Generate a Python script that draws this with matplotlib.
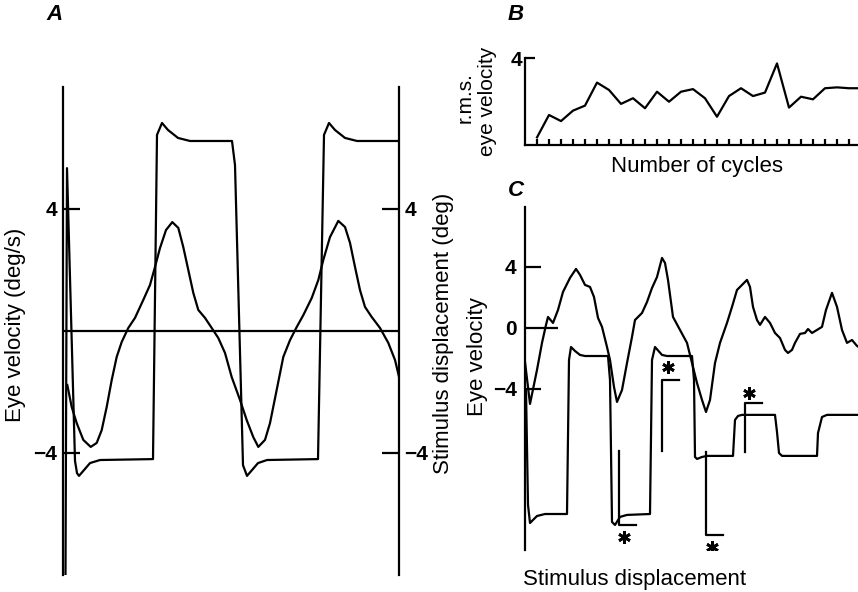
import matplotlib
matplotlib.use('Agg')
import matplotlib.pyplot as plt

plt.rcParams['font.family'] = ['Liberation Sans', 'DejaVu Sans']
plt.rcParams['axes.linewidth'] = 1.6

W, H = 858, 592
LW = 1.6
FS = 16
TFS = 15

# ---- panel A: two stimulus cycles (time in samples) ----
a_eye_t = [4.3, 8.7, 13.7, 20.3, 27.7, 33.7, 38.7, 43.7, 48.7, 53.7, 58.7, 65.3, 72,
           80.3, 87, 92, 97, 103, 109.3, 115.3, 120.3, 125.3, 130.3, 135.3, 142,
           148.7, 155.3, 162, 168.7, 177, 183.7, 190.3, 195.3, 202, 207, 213.7,
           220.3, 227, 233.7, 240.3, 248.7, 255.3, 260.3, 267, 275.3, 282, 287,
           292, 297, 302, 308.7, 317, 325.3, 332, 336]
a_eye_v = [-1.77, -2.49, -3.02, -3.57, -3.80, -3.67, -3.25, -2.49, -1.61, -0.85,
           -0.36, 0.10, 0.43, 1.02, 1.51, 2.10, 2.72, 3.31, 3.57, 3.38, 2.75, 2.00,
           1.25, 0.69, 0.43, 0.10, -0.23, -0.72, -1.51, -2.26, -2.92, -3.48, -3.80,
           -3.57, -3.02, -1.93, -0.85, -0.30, 0.13, 0.52, 1.08, 1.67, 2.33, 3.08,
           3.61, 3.41, 2.89, 2.10, 1.34, 0.79, 0.46, 0.10, -0.39, -0.95, -1.50]

a_stim_t = [2.5, 4, 12, 14, 16, 21, 27, 37, 90, 94, 99, 105, 115, 127, 169, 172, 180,
            184, 189, 195, 204, 255, 261, 266, 272, 282, 294, 336]
a_stim_d = [-8.0, 5.34, -4.26, -4.66, -4.75, -4.56, -4.33, -4.23, -4.2, 6.43, 6.82,
            6.59, 6.33, 6.23, 6.23, 5.44, -4.4, -4.75, -4.56, -4.33, -4.23, -4.2,
            6.43, 6.82, 6.59, 6.33, 6.23, 6.23]

# ---- panel B: r.m.s. eye velocity per cycle ----
b_cycles = list(range(1, 29))
b_rms = [0.35, 1.38, 1.10, 1.58, 1.81, 2.87, 2.53, 1.89, 2.15, 1.69, 2.45, 1.99,
         2.45, 2.57, 2.15, 1.30, 2.25, 2.61, 2.25, 2.41, 3.75, 1.72, 2.22, 2.10,
         2.61, 2.65, 2.61, 2.61]

# ---- panel C: eye velocity and stimulus, same time base ----
c_eye_t = [0, 5, 12, 17, 21, 23, 28, 33, 38, 45, 51, 55, 60, 65, 69, 73, 77, 82, 85,
           89, 92, 97, 102, 107, 110, 117, 122, 127, 132, 137, 140, 143, 148, 155,
           162, 167, 172, 177, 181, 185, 190, 195, 202, 207, 212, 217, 222, 225,
           228, 232, 235, 240, 245, 250, 255, 260, 263, 267, 270, 275, 280, 283,
           287, 292, 297, 301, 307, 312, 317, 322, 327, 332, 335]
c_eye_v = [-2.23, -4.98, -2.75, -0.98, 0.20, 0.72, 0.33, 1.18, 2.36, 3.28, 3.87,
           3.48, 2.82, 2.69, 2.03, 0.66, 0.07, -1.25, -2.10, -3.87, -4.85, -4.07,
           -2.30, -0.59, 0.52, 0.98, 1.70, 2.62, 3.34, 4.59, 4.26, 3.15, 0.72,
           -0.13, -0.98, -2.30, -3.61, -4.72, -5.51, -4.72, -2.30, -0.98, 0.33,
           1.38, 2.49, 2.82, 3.15, 2.69, 1.38, 0.52, 0.20, 0.72, 0.33, -0.33,
           -0.66, -1.44, -1.64, -1.44, -0.98, -0.39, -0.33, -0.07, -0.33, -0.13,
           0.07, 1.18, 2.30, 1.38, -0.13, -0.98, -0.79, -1.18, -1.30]

c_stim_t = [1, 3, 5, 8, 12, 20, 42, 44, 46, 50, 55, 60, 83, 85, 87, 90, 95, 102, 125,
            127, 130, 137, 142, 167, 169, 170, 172, 177, 182, 208, 210, 213, 217,
            250, 252, 254, 257, 292, 293, 297, 302, 335]
c_stim_d = [-4.07, -11.6, -12.79, -12.59, -12.33, -12.2, -12.2, -2.10, -1.25, -1.51,
            -1.77, -1.84, -1.84, -3.41, -12.72, -12.92, -12.39, -12.26, -12.2,
            -2.10, -1.25, -1.77, -1.84, -1.84, -3.41, -8.46, -8.59, -8.46, -8.39,
            -8.39, -6.03, -5.77, -5.70, -5.70, -6.82, -8.20, -8.39, -8.39, -6.89,
            -5.84, -5.70, -5.70]

# asterisked events: bracket time, bracket start/end level, star position
c_mark_t = [94, 137, 181, 220]
c_mark_from = [-8.07, -8.07, -8.13, -8.13]
c_mark_to = [-12.92, -3.41, -13.57, -4.92]
c_mark_foot = 17
c_star_t = [99, 143, 187, 224]
c_star_v = [-13.7, -2.56, -14.36, -4.26]


def box(x0, y0, x1, y1):
    # pixel box (top-left origin) -> figure fraction rect
    return [x0 / W, 1 - y1 / H, (x1 - x0) / W, (y1 - y0) / H]


def ftext(x, y, s, **kw):
    kw.setdefault('fontsize', FS)
    fig.text(x / W, 1 - y / H, s, ha='center', va='center', **kw)


fig = plt.figure(figsize=(W / 100, H / 100), dpi=100)

# panel A
ax_a = fig.add_axes(box(63, 87, 399, 575))
ax_a.plot(a_eye_t, a_eye_v, color='black', lw=LW)
ax_a.plot(a_stim_t, a_stim_d, color='black', lw=LW)
ax_a.axhline(0, color='black', lw=LW)
ax_a.set_xlim(0, 336)
ax_a.set_ylim(-8, 8)
ax_a.spines['top'].set_visible(False)
ax_a.spines['bottom'].set_visible(False)
ax_a.set_xticks([])
ax_a.set_yticks([-4, 4])
ax_a.set_yticklabels(['\u22124', '4'], fontweight='bold', fontsize=TFS)
ax_a.tick_params(axis='y', direction='in', length=12, width=LW, left=True,
                 right=True, labelleft=True, labelright=True, pad=4)

# panel B
ax_b = fig.add_axes(box(525, 58, 858, 145))
ax_b.plot(b_cycles, b_rms, color='black', lw=LW)
ax_b.set_xlim(0, 27.75)
ax_b.set_ylim(0, 4)
ax_b.spines['top'].set_visible(False)
ax_b.spines['right'].set_visible(False)
ax_b.set_xticks(range(1, 28))
ax_b.set_xticklabels([])
ax_b.set_yticks([4])
ax_b.set_yticklabels(['4'], fontweight='bold', fontsize=TFS)
ax_b.tick_params(axis='x', direction='in', length=4.3, width=LW)
ax_b.tick_params(axis='y', direction='in', length=7.2, width=LW, pad=2)

# panel C
ax_c = fig.add_axes(box(525, 207, 858, 550))
ax_c.plot(c_eye_t, c_eye_v, color='black', lw=LW)
ax_c.plot(c_stim_t, c_stim_d, color='black', lw=LW)
for t, v0, v1 in zip(c_mark_t, c_mark_from, c_mark_to):
    ax_c.plot([t, t, t + c_mark_foot], [v0, v1, v1], color='black', lw=LW)
ax_c.plot(c_star_t, c_star_v, ls='none', marker=(6, 2, 0), ms=9, mew=2,
          color='black')
ax_c.set_xlim(0, 333)
ax_c.set_ylim(-14.56, 7.93)
for s in ['top', 'right', 'bottom']:
    ax_c.spines[s].set_visible(False)
ax_c.set_xticks([])
ax_c.set_yticks([-4, 4])
ax_c.set_yticklabels(['\u22124', '4'], fontweight='bold', fontsize=TFS)
ax_c.set_yticks([0], minor=True)
ax_c.set_yticklabels(['0'], minor=True, fontweight='bold', fontsize=TFS)
ax_c.tick_params(axis='y', which='major', direction='in', length=11.5, width=LW, pad=6)
ax_c.tick_params(axis='y', which='minor', direction='in', length=24, width=LW, pad=6)

# labels
ftext(55, 15, 'A', fontweight='bold', fontstyle='italic')
ftext(516, 15, 'B', fontweight='bold', fontstyle='italic')
ftext(516, 190, 'C', fontweight='bold', fontstyle='italic')
ftext(16, 325, 'Eye velocity (deg/s)', rotation=90)
ftext(443, 333, 'Stimulus displacement (deg)', rotation=90)
ftext(465, 98, 'r.m.s.', rotation=90, fontsize=15)
ftext(487, 101, 'eye velocity', rotation=90, fontsize=15)
ftext(697, 167, 'Number of cycles')
ftext(478, 357, 'Eye velocity', rotation=90)
ftext(635, 580, 'Stimulus displacement')

fig.savefig('out.png', dpi=100)
